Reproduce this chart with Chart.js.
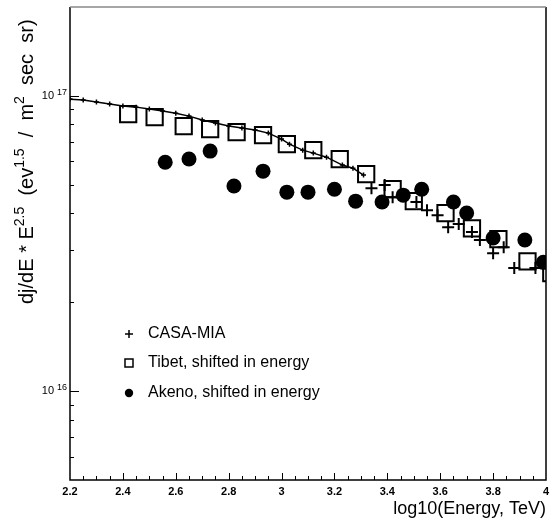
<!DOCTYPE html>
<html>
<head>
<meta charset="utf-8">
<script src="https://cdn.jsdelivr.net/npm/chart.js@4.4.1/dist/chart.umd.min.js"></script>
<style>
  body { margin: 0; background: #fff; }
</style>
</head>
<body>
<canvas id="myChart" width="555" height="520"></canvas>
<script>
// #----- Data -----#

// CASA-MIA (log10 E in TeV, flux * E^2.5)
const casaEnergy = [2.20, 2.25, 2.30, 2.35, 2.40, 2.45, 2.50, 2.55, 2.60, 2.65,
                    2.70, 2.75, 2.80, 2.85, 2.90, 2.95, 3.00, 3.03, 3.08, 3.12,
                    3.17, 3.23, 3.27, 3.31, 3.34, 3.39, 3.42, 3.51, 3.55, 3.59,
                    3.63, 3.67, 3.72, 3.75, 3.80, 3.84, 3.88, 3.96];
const casaFlux   = [9.75e16, 9.68e16, 9.53e16, 9.38e16, 9.24e16, 9.16e16, 9.02e16, 8.88e16, 8.74e16, 8.54e16,
                    8.28e16, 8.09e16, 7.90e16, 7.78e16, 7.66e16, 7.48e16, 7.14e16, 6.86e16, 6.55e16, 6.40e16,
                    6.20e16, 5.83e16, 5.69e16, 5.39e16, 4.87e16, 4.99e16, 4.54e16, 4.37e16, 4.10e16, 3.94e16,
                    3.59e16, 3.68e16, 3.46e16, 3.25e16, 2.93e16, 3.07e16, 2.61e16, 2.61e16];

// Tibet, shifted in energy
const tibetEnergy = [2.42, 2.52, 2.63, 2.73, 2.83, 2.93, 3.02, 3.12, 3.22, 3.32,
                     3.42, 3.50, 3.62, 3.72, 3.82, 3.93, 4.02];
const tibetFlux   = [8.68e16, 8.48e16, 7.90e16, 7.72e16, 7.54e16, 7.36e16, 6.86e16, 6.55e16, 6.11e16, 5.43e16,
                     4.83e16, 4.40e16, 4.01e16, 3.56e16, 3.27e16, 2.75e16, 2.51e16];

// Akeno, shifted in energy
const akenoEnergy = [2.56, 2.65, 2.73, 2.82, 2.93, 3.02, 3.10, 3.20, 3.28, 3.38,
                     3.46, 3.53, 3.65, 3.70, 3.80, 3.92, 3.99];
const akenoFlux   = [5.96e16, 6.11e16, 6.50e16, 4.95e16, 5.56e16, 4.72e16, 4.72e16, 4.83e16, 4.40e16, 4.37e16,
                     4.61e16, 4.83e16, 4.37e16, 4.01e16, 3.30e16, 3.25e16, 2.73e16];

// Axis ranges and labelled decades
const xMin = 2.2, xMax = 4.0;
const yMin = 5e15, yMax = 2e17;
const yLabelDecades = [16, 17];

const legendLabels = ['CASA-MIA', 'Tibet, shifted in energy', 'Akeno, shifted in energy'];

// y title pieces: text, superscript?
const yTitleParts = [['dj/dE * E', false], ['2.5', true], ['  (ev', false], ['1.5', true],
                     ['  /  m', false], ['2', true], ['  sec  sr)', false]];

const FONT = "'Liberation Sans', Arial, Helvetica, sans-serif";

const toPoints = (xs, ys) => xs.map((x, i) => ({x: x, y: ys[i]}));

// #----- Extra drawing: frame, inward ticks, y labels, legend -----#
const framePlugin = {
  id: 'frame',
  afterDraw(chart) {
    const {ctx, chartArea: a, scales: {x, y}} = chart;
    ctx.save();

    // ticks pointing into the plot
    ctx.strokeStyle = '#000';
    ctx.lineWidth = 1;
    ctx.beginPath();
    for (let i = 1; i < 36; i++) {
      const px = Math.round(x.getPixelForValue(xMin + i * 0.05)) + 0.5;
      const len = (i % 4 === 0) ? 7 : 4;
      ctx.moveTo(px, a.bottom);
      ctx.lineTo(px, a.bottom - len);
    }
    for (let e = 15; e <= 17; e++) {
      for (let m = 1; m <= 9; m++) {
        const v = m * Math.pow(10, e);
        if (v <= yMin || v >= yMax) continue;
        const py = Math.round(y.getPixelForValue(v)) + 0.5;
        ctx.moveTo(a.left, py);
        ctx.lineTo(a.left + (m === 1 ? 9 : 4), py);
      }
    }
    ctx.stroke();

    // frame
    ctx.lineWidth = 1.5;
    ctx.strokeStyle = '#000';
    ctx.beginPath();
    ctx.moveTo(a.left, a.top);
    ctx.lineTo(a.left, a.bottom);
    ctx.lineTo(a.right, a.bottom);
    ctx.lineTo(a.right, a.top);
    ctx.stroke();
    ctx.strokeStyle = '#888';
    ctx.beginPath();
    ctx.moveTo(a.left, a.top);
    ctx.lineTo(a.right, a.top);
    ctx.stroke();

    // y tick labels 10^n
    ctx.fillStyle = '#000';
    yLabelDecades.forEach(e => {
      const py = y.getPixelForValue(Math.pow(10, e));
      ctx.font = '11px ' + FONT;
      ctx.textAlign = 'right';
      ctx.textBaseline = 'middle';
      ctx.fillText('10', a.left - 16, py);
      ctx.font = '9px ' + FONT;
      ctx.textAlign = 'left';
      ctx.textBaseline = 'alphabetic';
      ctx.fillText(String(e), a.left - 13, py - 1);
    });

    // y axis title with superscripts
    ctx.save();
    ctx.translate(33, 304);
    ctx.rotate(-Math.PI / 2);
    ctx.textAlign = 'left';
    ctx.textBaseline = 'alphabetic';
    let cx = 0;
    yTitleParts.forEach(([t, sup]) => {
      ctx.font = (sup ? '14px ' : '20px ') + FONT;
      ctx.fillText(t, cx, sup ? -9 : 0);
      cx += ctx.measureText(t).width;
    });
    ctx.restore();

    // legend
    const lx = 129, ly = [334, 363, 393];
    ctx.lineWidth = 1.5;
    ctx.strokeStyle = '#000';
    ctx.beginPath();
    ctx.moveTo(lx - 4, ly[0]); ctx.lineTo(lx + 4, ly[0]);
    ctx.moveTo(lx, ly[0] - 4); ctx.lineTo(lx, ly[0] + 4);
    ctx.stroke();
    ctx.strokeRect(lx - 4, ly[1] - 4, 8, 8);
    ctx.beginPath();
    ctx.arc(lx, ly[2], 4.2, 0, Math.PI * 2);
    ctx.fill();
    ctx.font = '16px ' + FONT;
    ctx.textAlign = 'left';
    ctx.textBaseline = 'middle';
    legendLabels.forEach((t, i) => ctx.fillText(t, 148, ly[i]));

    ctx.restore();
  }
};

// #----- Chart -----#
const chart = new Chart(document.getElementById('myChart').getContext('2d'), {
  type: 'scatter',
  data: {
    datasets: [{
      label: legendLabels[0],
      data: toPoints(casaEnergy, casaFlux),
      showLine: true,
      borderColor: '#000',
      borderWidth: 1.5,
      pointStyle: 'cross',
      pointRadius: ctx => (ctx.raw && ctx.raw.x > 3.32) ? 6 : 2.5,
      pointBorderWidth: ctx => (ctx.raw && ctx.raw.x > 3.32) ? 2 : 1.5,
      pointBorderColor: '#000',
      segment: {
        borderColor: ctx => ctx.p1.parsed.x > 3.32 ? 'rgba(0,0,0,0)' : '#000'
      }
    }, {
      label: legendLabels[1],
      data: toPoints(tibetEnergy, tibetFlux),
      pointStyle: 'rect',
      pointRadius: 11.5,
      pointBorderWidth: 2,
      pointBorderColor: '#000',
      pointBackgroundColor: 'rgba(0,0,0,0)'
    }, {
      label: legendLabels[2],
      data: toPoints(akenoEnergy, akenoFlux),
      pointStyle: 'circle',
      pointRadius: 7.5,
      pointBorderWidth: 0,
      pointBackgroundColor: '#000'
    }]
  },
  options: {
    responsive: false,
    animation: false,
    devicePixelRatio: 1,
    layout: { autoPadding: false, padding: { top: 7, right: 9, left: 0, bottom: 0 } },
    plugins: {
      legend: { display: false },
      tooltip: { enabled: false }
    },
    scales: {
      x: {
        type: 'linear',
        min: xMin,
        max: xMax,
        grid: { display: false, drawTicks: false },
        border: { display: false },
        ticks: {
          stepSize: 0.2,
          padding: 5,
          color: '#000',
          font: { family: FONT, size: 11, weight: 'bold' },
          maxRotation: 0,
          callback: v => String(+v.toFixed(1))
        },
        title: {
          display: true,
          text: 'log10(Energy, TeV)',
          align: 'end',
          color: '#000',
          font: { family: FONT, size: 18 },
          padding: { top: 0, bottom: 0 }
        },
        afterFit: s => { s.height = 40; }
      },
      y: {
        type: 'logarithmic',
        min: yMin,
        max: yMax,
        grid: { display: false, drawTicks: false },
        border: { display: false },
        ticks: { display: false },
        afterFit: s => { s.width = 70; }
      }
    }
  },
  plugins: [framePlugin]
});
</script>
</body>
</html>
